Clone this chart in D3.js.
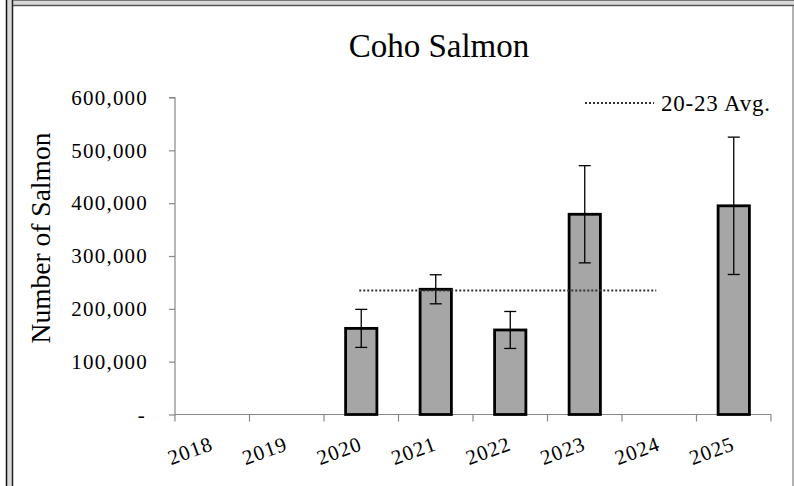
<!DOCTYPE html>
<html><head><meta charset="utf-8">
<script src="https://cdn.jsdelivr.net/npm/d3@7"></script>
<style>html,body{margin:0;padding:0;background:#fff;}svg{display:block;}</style>
</head><body>
<svg id="c" width="794" height="486"></svg>
<script>
const categories = ["2018","2019","2020","2021","2022","2023","2024","2025"];
const values = [null,null,163000,237000,160000,379000,null,395000];
const errors = [null,null,36000,27500,35000,92000,null,130000];
const yTicks = [0,100000,200000,300000,400000,500000,600000];
const avgValue = 234750;
const avgFrom = "2020", avgTo = "2024";
const title = "Coho Salmon";
const yLabel = "Number of Salmon";
const legendLabel = "20-23 Avg.";

const svg = d3.select("#c");
const font = "'Liberation Serif','Times New Roman',serif";

// frame
svg.append("rect").attr("x",0).attr("y",0).attr("width",794).attr("height",486).attr("fill","#fff");
svg.append("rect").attr("x",7).attr("y",0).attr("width",6).attr("height",486).attr("fill","#d9d9d9");
svg.append("rect").attr("x",13).attr("y",0).attr("width",781).attr("height",5).attr("fill","#d9d9d9");
svg.append("line").attr("x1",6.5).attr("x2",6.5).attr("y1",0).attr("y2",486).attr("stroke","#111").attr("stroke-width",1.5);
svg.append("line").attr("x1",12.5).attr("x2",12.5).attr("y1",0).attr("y2",486).attr("stroke","#222").attr("stroke-width",1.5);
svg.append("line").attr("x1",13).attr("x2",794).attr("y1",5.5).attr("y2",5.5).attr("stroke","#555").attr("stroke-width",1.5);
svg.append("line").attr("x1",13).attr("x2",794).attr("y1",0.5).attr("y2",0.5).attr("stroke","#777").attr("stroke-width",1);
svg.append("line").attr("x1",793).attr("x2",793).attr("y1",6).attr("y2",486).attr("stroke","#999").attr("stroke-width",1.5);

const x = d3.scaleBand().domain(categories).range([175,771]).paddingInner(0).paddingOuter(0);
const y = d3.scaleLinear().domain([0,600000]).range([414.5,97.5]);
const barW = x.bandwidth()*0.42;

// title
svg.append("text").attr("x",439).attr("y",57).attr("text-anchor","middle")
  .attr("font-family",font).attr("font-size",33).attr("fill","#000").text(title);

// y axis label
svg.append("text").attr("transform","translate(50,238) rotate(-90)").attr("text-anchor","middle")
  .attr("font-family",font).attr("font-size",27.5).attr("fill","#000").text(yLabel);

// y axis
const yAxis = d3.axisLeft(y).tickValues(yTicks).tickSize(6).tickPadding(21)
  .tickFormat(d => d===0 ? "-" : d3.format(",")(d));
const gy = svg.append("g").attr("transform","translate(175,0)").call(yAxis);
gy.select(".domain").attr("stroke","#888").attr("stroke-width",1.2).attr("d","M-6,97.5H0V414.5");
gy.selectAll(".tick line").attr("stroke","#888").attr("stroke-width",1.2);
gy.selectAll(".tick text").attr("font-family",font).attr("font-size",21).attr("letter-spacing",1.2).attr("fill","#000");
gy.selectAll(".tick text").filter(d=>d===0).attr("dx",-2);

// x axis
const xAxis = d3.axisBottom(x).tickSize(0).tickFormat("");
const gx = svg.append("g").attr("transform","translate(0,414.5)").call(xAxis);
gx.select(".domain").attr("stroke","#888").attr("stroke-width",1.2).attr("d","M175,0H771");
const bounds = categories.map(c=>x(c)).concat([x(categories[categories.length-1])+x.bandwidth()]);
gx.selectAll(".bt").data(bounds).enter().append("line").attr("class","bt")
  .attr("x1",d=>d).attr("x2",d=>d).attr("y1",0).attr("y2",7).attr("stroke","#888").attr("stroke-width",1.2);
gx.selectAll(".xl").data(categories).enter().append("text").attr("class","xl")
  .attr("transform",d=>`translate(${x(d)+x.bandwidth()/2+2},${35}) rotate(-20)`)
  .attr("text-anchor","end").attr("font-family",font).attr("font-size",21).attr("letter-spacing",1)
  .attr("fill","#000").text(d=>d);

// bars
const data = categories.map((c,i)=>({c, v:values[i], e:errors[i]})).filter(d=>d.v!=null);
svg.selectAll(".bar").data(data).enter().append("rect").attr("class","bar")
  .attr("x",d=>x(d.c)+x.bandwidth()/2-barW/2).attr("width",barW)
  .attr("y",d=>y(d.v)).attr("height",d=>y(0)-y(d.v))
  .attr("fill","#a6a6a6").attr("stroke","#000").attr("stroke-width",2.8);

// error bars
const eb = svg.selectAll(".eb").data(data).enter().append("g").attr("class","eb");
eb.append("line").attr("x1",d=>x(d.c)+x.bandwidth()/2).attr("x2",d=>x(d.c)+x.bandwidth()/2)
  .attr("y1",d=>y(d.v+d.e)).attr("y2",d=>y(d.v-d.e)).attr("stroke","#000").attr("stroke-width",1.3);
eb.append("line").attr("x1",d=>x(d.c)+x.bandwidth()/2-6).attr("x2",d=>x(d.c)+x.bandwidth()/2+6)
  .attr("y1",d=>y(d.v+d.e)).attr("y2",d=>y(d.v+d.e)).attr("stroke","#000").attr("stroke-width",1.3);
eb.append("line").attr("x1",d=>x(d.c)+x.bandwidth()/2-6).attr("x2",d=>x(d.c)+x.bandwidth()/2+6)
  .attr("y1",d=>y(d.v-d.e)).attr("y2",d=>y(d.v-d.e)).attr("stroke","#000").attr("stroke-width",1.3);

// average line
svg.append("line").attr("x1",x(avgFrom)+x.bandwidth()/2-2).attr("x2",x(avgTo)+x.bandwidth()/2-3)
  .attr("y1",y(avgValue)).attr("y2",y(avgValue)).attr("stroke","#333").attr("stroke-width",2)
  .attr("stroke-dasharray","2,2");

// legend
svg.append("line").attr("x1",585).attr("x2",654).attr("y1",103).attr("y2",103)
  .attr("stroke","#333").attr("stroke-width",2).attr("stroke-dasharray","2,2");
svg.append("text").attr("x",661).attr("y",110.5).attr("font-family",font).attr("font-size",23)
  .attr("letter-spacing",0.8).attr("fill","#000").text(legendLabel);
</script>
</body></html>
